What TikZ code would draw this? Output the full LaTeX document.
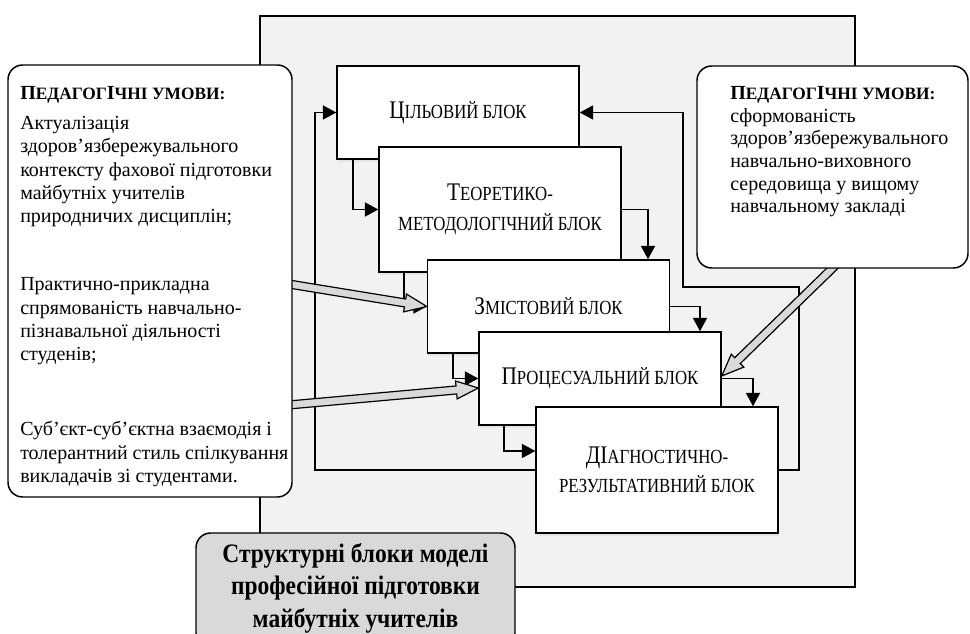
\documentclass[tikz,border=0pt]{standalone}
\usepackage{fontspec}
\setmainfont{Liberation Serif}
\newfontfamily\blkfont[FakeStretch=0.84]{Liberation Serif}
\newfontfamily\ttlfont[FakeStretch=0.88]{Liberation Serif}
\usetikzlibrary{calc,arrows.meta,shadows}
\definecolor{bgfill}{HTML}{F2F2F2}
\definecolor{greyfill}{HTML}{D9D9D9}
\definecolor{shadowc}{HTML}{A9BDD6}
\newcommand\hsc[1]{{\fontsize{13}{17.5}\selectfont #1}}
\newcommand\bsc[1]{{\fontsize{15}{22}\selectfont #1}}
\newcommand\fatarrow[2]{%
  \coordinate (fh) at ($(#2)!16.5pt!(#1)$);
  \filldraw[fat] ($(#1)!3pt!90:(#2)$) -- ($(fh)!3pt!-90:(#1)$) -- ($(fh)!6.75pt!-90:(#1)$) -- (#2)
     -- ($(fh)!6.75pt!90:(#1)$) -- ($(fh)!3pt!90:(#1)$) -- ($(#1)!3pt!-90:(#2)$) -- cycle;}
\pgfdeclarelayer{bg}\pgfdeclarelayer{mid}\pgfdeclarelayer{arr}
\pgfsetlayers{bg,mid,arr,main}
\begin{document}
\begin{tikzpicture}[x=0.75pt,y=-0.75pt,
  blk/.style={draw, line width=1.1pt, fill=white, minimum width=181.5pt, inner sep=0pt, align=center,
    font=\blkfont\fontsize{19}{22}\selectfont,
    drop shadow={shadow xshift=0.6pt, shadow yshift=-2.2pt, fill=shadowc, opacity=0.22}},
  conn/.style={line width=1.1pt, -{Triangle[length=10pt,width=10.5pt]}},
  fat/.style={draw, line width=0.9pt, fill=greyfill, line join=miter},
  cbox/.style={draw, line width=1.1pt, fill=white, rounded corners=11pt, inner sep=0pt},
  txt/.style={anchor=north west, inner sep=0pt, align=left}]
\useasboundingbox (0,0) rectangle (970,634);

% side boxes (top layer)
\node[cbox, minimum width=213pt, minimum height=324pt] (lbox) at (150,281) {};
\node[cbox, minimum width=203.25pt, minimum height=151.5pt] (rbox) at (832.5,167) {};
\node[cbox, fill=greyfill, minimum width=239.25pt, minimum height=86.25pt] (tbox) at (355.5,590.5) {};

\node[txt, font=\fontsize{15}{17.5}\selectfont] (ltxt) at (20,86) {%
\textbf{П\hsc{ЕДАГОГ}І\hsc{ЧНІ УМОВИ:}}\\[5pt]
Актуалізація\\
здоров’язбережувального\\
контексту фахової підготовки\\
майбутніх учителів\\
природничих дисциплін;\\[33.5pt]
Практично-прикладна\\
спрямованість навчально-\\
пізнавальної діяльності\\
студенів;\\[38.75pt]
Суб’єкт-суб’єктна взаємодія і\\
толерантний стиль спілкування\\
викладачів зі студентами.};

\node[txt, font=\fontsize{15}{17}\selectfont] (rtxt) at (730,86) {%
\textbf{П\hsc{ЕДАГОГ}І\hsc{ЧНІ УМОВИ:}}\\
сформованість\\
здоров’язбережувального\\
навчально-виховного\\
середовища у вищому\\
навчальному закладі};

\node[inner sep=0pt, align=center, font=\ttlfont\bfseries\fontsize{20}{24.4}\selectfont] (ttxt) at (355.5,588)
  {Структурні блоки моделі\\професійної підготовки\\майбутніх учителів};

\begin{pgfonlayer}{bg}
\draw[line width=1pt, fill=bgfill] (260,16) rectangle (855,587);
\end{pgfonlayer}

\begin{pgfonlayer}{mid}
\node[blk, minimum height=69.75pt] (b1) at (458,112.5) {Ц\bsc{ІЛЬОВИЙ БЛОК}};
\node[blk, minimum height=93.75pt] (b2) at (500,209.5) {Т\bsc{ЕОРЕТИКО-}\\\bsc{МЕТОДОЛОГІЧНИЙ БЛОК}};
\node[blk, minimum height=69.75pt] (b3) at (548.5,306.5) {З\bsc{МІСТОВИЙ БЛОК}};
\node[blk, minimum height=69.75pt] (b4) at (600,378.5) {П\bsc{РОЦЕСУАЛЬНИЙ БЛОК}};
\node[blk, minimum height=94.5pt] (b5) at (657,470) {ДІ\bsc{АГНОСТИЧНО-}\\\bsc{РЕЗУЛЬТАТИВНИЙ БЛОК}};

\draw[conn] (353,0 |- b1.south) |- (b2.west);
\draw[conn] (404,0 |- b2.south) |- (b3.west);
\draw[conn] (453,0 |- b3.south) |- (b4.west);
\draw[conn] (504,0 |- b4.south) |- (b5.west |- 0,451);
\draw[conn] (b2.east) -| (648,0 |- b3.north);
\draw[conn] (b3.east) -| (700,0 |- b4.north);
\draw[conn] (b4.east) -| (753,0 |- b5.north);
\draw[conn] (b5.west) -- (315,0 |- b5.west) |- (b1.west);
\draw[conn] (b5.east) -- (799,0 |- b5.east) |- (683,287) |- (b1.east);
\end{pgfonlayer}

\begin{pgfonlayer}{arr}
\coordinate (g1s) at ($(lbox.east |- 0,284)+(-4,0)$);
\coordinate (g2s) at ($(lbox.east |- 0,405)+(-4,0)$);
\coordinate (g2e) at (b4.west |- 0,388);
\coordinate (g3s) at ($(836,0 |- rbox.south)+(0,-4)$);
\coordinate (g3e) at (b4.east |- 0,376);
\fatarrow{g1s}{b3.west}
\fatarrow{g2s}{g2e}
\fatarrow{g3s}{g3e}
\end{pgfonlayer}
\end{tikzpicture}
\end{document}
